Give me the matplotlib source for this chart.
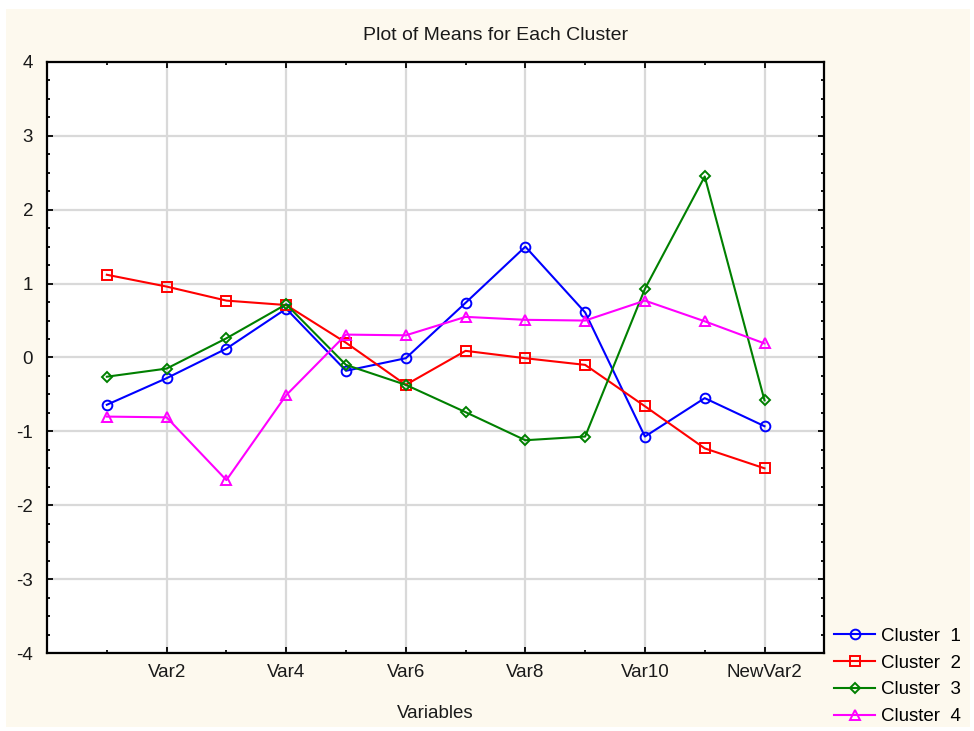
import numpy as np
import matplotlib.pyplot as plt
from matplotlib.patches import Rectangle
from matplotlib.ticker import MultipleLocator, FixedLocator

plt.rcParams['font.family'] = ['Liberation Sans', 'DejaVu Sans']
plt.rcParams['axes.unicode_minus'] = False

# variables on the x axis
variables = ["Var1", "Var2", "Var3", "Var4", "Var5", "Var6",
             "Var7", "Var8", "Var9", "Var10", "Var11", "NewVar2"]

# cluster means
cluster1 = [-0.64, -0.28, 0.12, 0.66, -0.18, -0.01, 0.74, 1.50, 0.61, -1.07, -0.55, -0.93]
cluster2 = [1.12, 0.96, 0.77, 0.71, 0.20, -0.37, 0.09, -0.01, -0.10, -0.66, -1.23, -1.50]
cluster3 = [-0.26, -0.15, 0.26, 0.72, -0.10, -0.37, -0.74, -1.12, -1.07, 0.93, 2.45, -0.58]
cluster4 = [-0.80, -0.81, -1.66, -0.51, 0.31, 0.30, 0.55, 0.51, 0.50, 0.77, 0.49, 0.19]

series = [("Cluster  1", cluster1, "#0000FF", "o", 7),
          ("Cluster  2", cluster2, "#FF0000", "s", 7),
          ("Cluster  3", cluster3, "#008000", "D", 4.8),
          ("Cluster  4", cluster4, "#FF00FF", "^", 7)]

txt = "#1a1a1a"

fig = plt.figure(figsize=(9.74, 7.31), dpi=100)
fig.patch.set_facecolor("white")
fig.patches.append(Rectangle((0.006, 0.006), 0.99, 0.982, transform=fig.transFigure,
                             facecolor="#FDF9EE", edgecolor="none", zorder=-10))

ax = fig.add_axes([0.0483, 0.1067, 0.798, 0.8085])
ax.set_facecolor("white")

x = np.arange(1, len(variables) + 1)
for name, vals, col, mk, ms in series:
    ax.plot(x, vals, color=col, lw=1.5, marker=mk, markersize=ms,
            markerfacecolor="none", markeredgecolor=col, markeredgewidth=1.4,
            label=name, zorder=3)

ax.set_xlim(0, len(variables) + 1)
ax.set_ylim(-4, 4)
ax.xaxis.set_major_locator(FixedLocator(x[1::2]))
ax.set_xticklabels(variables[1::2])
ax.xaxis.set_minor_locator(FixedLocator(x[0::2]))
ax.yaxis.set_major_locator(MultipleLocator(1))
ax.yaxis.set_minor_locator(MultipleLocator(0.25))

ax.grid(True, which="major", color="#D9D9D9", lw=1.6, zorder=0)
ax.tick_params(which="both", direction="in", top=True, right=True, colors="black",
               labelcolor=txt, labelsize=13.5)
ax.tick_params(which="major", length=4, width=1.3)
ax.tick_params(which="minor", length=2.5, width=1.3)
ax.tick_params(axis="y", pad=10)
ax.tick_params(axis="x", pad=8)
for sp in ax.spines.values():
    sp.set_linewidth(1.6)
    sp.set_color("black")

fig.text(0.509, 0.951, "Plot of Means for Each Cluster", fontsize=14,
         color=txt, ha="center", va="center")
ax.set_xlabel("Variables", fontsize=13.5, color=txt, labelpad=17)

ax.legend(loc="lower left", bbox_to_anchor=(1.003, -0.135), frameon=False,
          fontsize=13.5, handlelength=2.2, handletextpad=0.3, labelspacing=0.52,
          borderaxespad=0)

fig.savefig("out.png", dpi=100, facecolor=fig.get_facecolor())
